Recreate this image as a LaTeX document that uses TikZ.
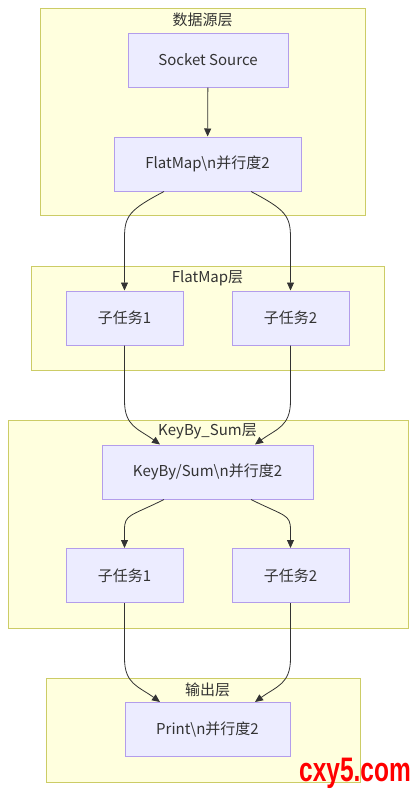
\documentclass[tikz,border=0pt]{standalone}
\usepackage{fontspec}
\setmainfont{Noto Sans CJK SC}
\newfontfamily\wmfont{Liberation Sans}
\usetikzlibrary{arrows.meta}
\definecolor{clfill}{HTML}{FFFFDE}
\definecolor{cldraw}{HTML}{CCCC66}
\definecolor{ndfill}{HTML}{ECECFF}
\definecolor{nddraw}{HTML}{B39DEB}
\definecolor{txt}{HTML}{333333}
\definecolor{wmred}{HTML}{FF0000}
\begin{document}
\begin{tikzpicture}[x=1pt,y=-1pt,
 cluster/.style={draw=cldraw, fill=clfill, line width=1pt, inner sep=0pt},
 box/.style={draw=nddraw, fill=ndfill, line width=1pt, text=txt, font=\fontsize{15}{17}\selectfont, minimum height=54pt, inner sep=0pt},
 ttl/.style={text=txt, font=\fontsize{15}{17}\selectfont, inner sep=0pt},
 flow/.style={draw=txt, line width=0.8pt, -{Triangle[length=8pt,width=7pt]}}
]
\useasboundingbox (0,0) rectangle (416,790);
\fill[white] (0,0) rectangle (416,790);
% clusters
\node[cluster, minimum width=325pt, minimum height=207pt] (c1) at (202.5,111.5) {};
\node[ttl] (t1) at (202.5,19.5) {数据源层};
\node[cluster, minimum width=353pt, minimum height=104pt] (c2) at (207.5,318) {};
\node[ttl] (t2) at (207.5,278) {FlatMap层};
\node[cluster, minimum width=400pt, minimum height=208pt] (c3) at (208,524) {};
\node[ttl] (t3) at (207.5,431) {KeyBy\_Sum层};
\node[cluster, minimum width=314pt, minimum height=104pt] (c4) at (203,730) {};
\node[ttl] (t4) at (207.5,690) {输出层};
% nodes
\node[box, minimum width=160pt] (src) at (208,60) {Socket Source};
\node[box, minimum width=187pt] (fm) at (207.5,164) {FlatMap\textbackslash n并行度2};
\node[box, minimum width=117pt] (fa) at (124.5,318) {子任务1};
\node[box, minimum width=117pt] (fb) at (290.5,318) {子任务2};
\node[box, minimum width=211pt] (ks) at (207.5,472) {KeyBy/Sum\textbackslash n并行度2};
\node[box, minimum width=117pt] (ka) at (124.5,575.5) {子任务1};
\node[box, minimum width=117pt] (kb) at (290.5,575.5) {子任务2};
\node[box, minimum width=165pt] (pr) at (207.5,729.5) {Print\textbackslash n并行度2};
% edges
\draw[flow] (src) -- (fm);
\draw[flow] ([xshift=-43.5pt]fm.south) .. controls +(-34,18) and +(0,-22) .. ([yshift=53pt]fa.north) -- (fa.north);
\draw[flow] ([xshift=43.5pt]fm.south) .. controls +(34,18) and +(0,-22) .. ([yshift=53pt]fb.north) -- (fb.north);
\draw[flow] (fa.south) -- ([yshift=-55pt]fa.south) .. controls +(0,26) and +(-22,-16) .. ([xshift=-47.5pt]ks.north);
\draw[flow] (fb.south) -- ([yshift=-55pt]fb.south) .. controls +(0,26) and +(22,-16) .. ([xshift=47.5pt]ks.north);
\draw[flow] ([xshift=-43.5pt]ks.south) .. controls +(-34,17) and +(0,-16) .. ([yshift=18pt]ka.north) -- (ka.north);
\draw[flow] ([xshift=43.5pt]ks.south) .. controls +(34,17) and +(0,-16) .. ([yshift=18pt]kb.north) -- (kb.north);
\draw[flow] (ka.south) -- ([yshift=-55pt]ka.south) .. controls +(0,26) and +(-22,-16) .. ([xshift=-47.5pt]pr.north);
\draw[flow] (kb.south) -- ([yshift=-55pt]kb.south) .. controls +(0,26) and +(22,-16) .. ([xshift=47.5pt]pr.north);
% watermark
\node[anchor=base, text=wmred, font=\wmfont\bfseries\fontsize{34}{36}\selectfont, xscale=0.72, inner sep=0pt] (wm) at (355,781) {cxy5.com};
\end{tikzpicture}
\end{document}
